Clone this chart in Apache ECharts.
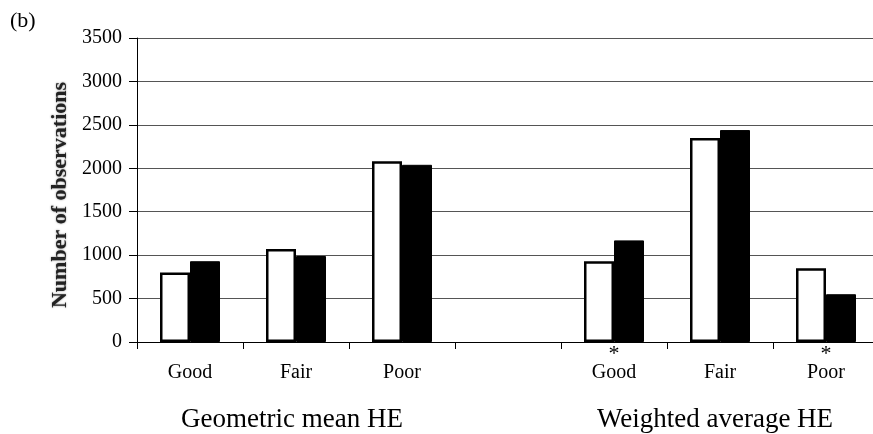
<!DOCTYPE html>
<html>
<head>
<meta charset="utf-8">
<script src="https://cdn.jsdelivr.net/npm/echarts@6/dist/echarts.min.js"></script>
<style>
  html, body { margin: 0; padding: 0; background: #fff; overflow: hidden; }
  /* the plot runs a few pixels past the right edge of the window */
  #chart { width: 880px; height: 434px; }
</style>
</head>
<body>
<div id="chart"></div>
<script>
// Health-expenditure classes for two summary measures (blank slot separates the groups)
const categories = ['Good', 'Fair', 'Poor', '', 'Good', 'Fair', 'Poor'];
// Classes flagged with an asterisk
const starred = [false, false, false, false, true, false, true];
// Number of observations per class
const openBars = [800, 1070, 2080, null, 930, 2350, 850];
const solidBars = [930, 990, 2040, null, 1170, 2440, 550];
// Group captions under the axis
const groupTitles = ['Geometric mean HE', 'Weighted average HE'];
const yTicks = { min: 0, max: 3500, interval: 500 };

const serif = '"Liberation Serif", "Times New Roman", serif';
const chart = echarts.init(document.getElementById('chart'));

chart.setOption({
  animation: false,
  backgroundColor: '#fff',
  grid: { left: 137, right: 1, top: 38, bottom: 92, containLabel: false },
  xAxis: {
    type: 'category',
    data: categories,
    boundaryGap: true,
    axisLine: { lineStyle: { color: '#000', width: 1 } },
    axisTick: { show: true, length: 7, interval: 0, lineStyle: { color: '#000' } },
    axisLabel: {
      interval: 0,
      margin: 5,
      formatter: function (v, i) {
        return '{s|' + (starred[i] ? '*' : ' ') + '}\n{c|' + v + '}';
      },
      rich: {
        s: { fontFamily: serif, fontSize: 22, lineHeight: 14, color: '#000', align: 'center' },
        c: { fontFamily: serif, fontSize: 20, lineHeight: 24, color: '#000', align: 'center' }
      }
    },
    splitLine: { show: false }
  },
  yAxis: {
    type: 'value',
    min: yTicks.min,
    max: yTicks.max,
    interval: yTicks.interval,
    name: 'Number of observations',
    nameLocation: 'middle',
    nameRotate: 90,
    nameGap: 66,
    nameTextStyle: {
      fontFamily: serif,
      fontWeight: 'bold',
      fontSize: 22,
      color: '#222',
      textShadowColor: 'rgba(0,0,0,0.5)',
      textShadowBlur: 2,
      padding: [0, 10, 0, 0]
    },
    axisLine: { show: true, lineStyle: { color: '#000', width: 1 } },
    axisTick: { show: true, length: 8, lineStyle: { color: '#000' } },
    axisLabel: {
      fontFamily: serif, fontSize: 20, color: '#000', margin: 15,
      formatter: function (v) { return String(v); }
    },
    splitLine: { show: true, lineStyle: { color: '#555', width: 1 } }
  },
  series: [
    {
      name: 'Open',
      type: 'bar',
      data: openBars,
      barWidth: 30,
      barGap: '0%',
      itemStyle: { color: '#fff', borderColor: '#000', borderWidth: 2.5 }
    },
    {
      name: 'Solid',
      type: 'bar',
      data: solidBars,
      barWidth: 30,
      barGap: '0%',
      itemStyle: { color: '#000', borderColor: '#000', borderWidth: 1 }
    }
  ],
  graphic: [
    {
      type: 'text', left: 10, top: 10,
      style: { text: '(b)', fontFamily: serif, fontSize: 22, fill: '#000' }
    },
    {
      type: 'text', x: 292, y: 420,
      style: { text: groupTitles[0], fontFamily: serif, fontSize: 27, fill: '#000', align: 'center', verticalAlign: 'middle' }
    },
    {
      type: 'text', x: 715, y: 420,
      style: { text: groupTitles[1], fontFamily: serif, fontSize: 27, fill: '#000', align: 'center', verticalAlign: 'middle' }
    }
  ]
});
</script>
</body>
</html>
